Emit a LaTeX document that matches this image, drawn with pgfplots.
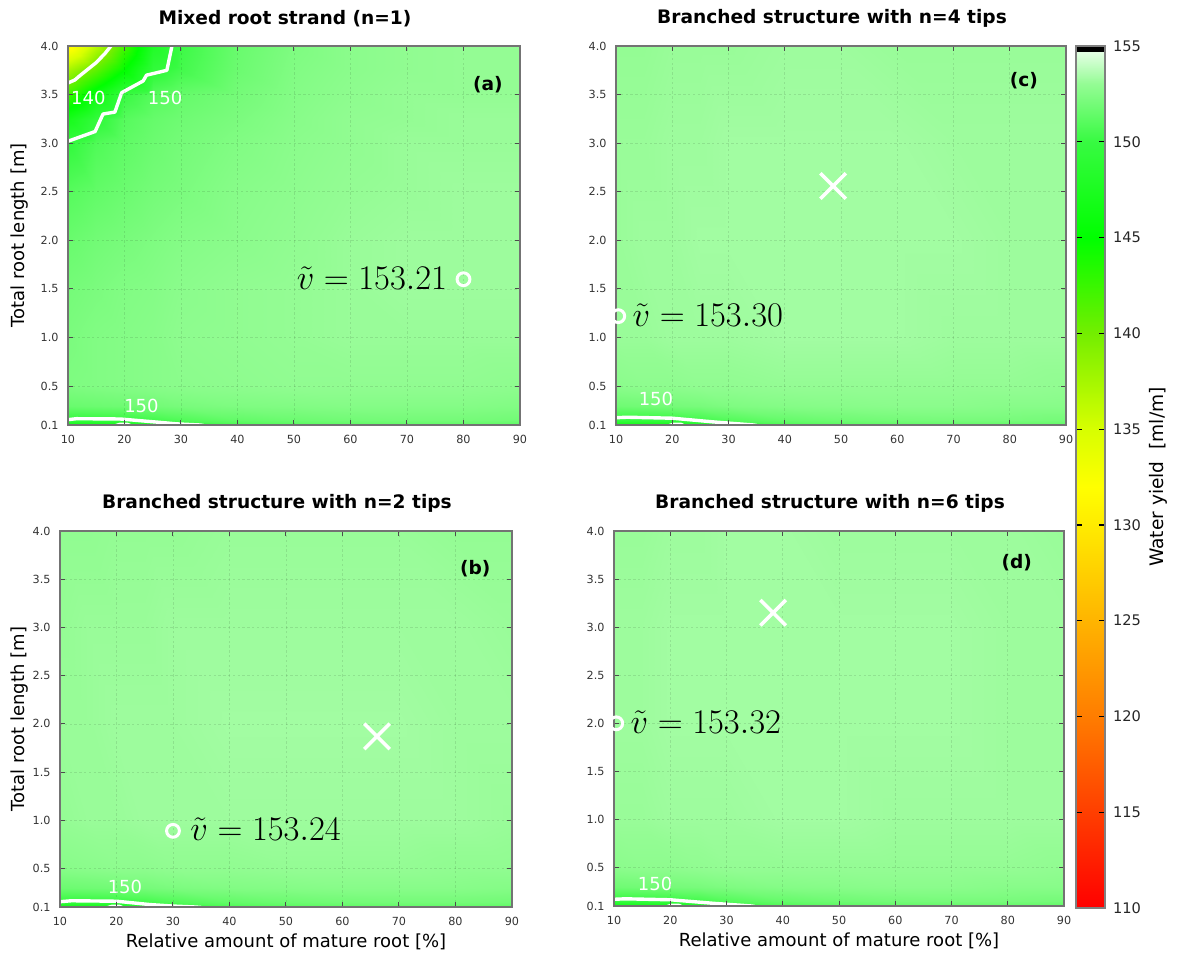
\documentclass[border=0pt]{standalone}
\usepackage[no-math]{fontspec}
\setmainfont{DejaVu Sans}
\usepackage{pgfplots}
\pgfplotsset{compat=1.18}
\usepackage{pgfplotstable}

\pgfplotsset{colormap={wy}{rgb255(110)=(255,0,0) rgb255(120)=(255,125,0) rgb255(125)=(255,180,0) rgb255(130)=(255,235,0) rgb255(132)=(255,255,0) rgb255(135)=(215,255,0) rgb255(140)=(115,238,0) rgb255(145)=(0,255,0) rgb255(150)=(55,250,65) rgb255(153)=(148,252,148) rgb255(154.7)=(228,255,228) rgb255(154.75)=(0,0,0) rgb255(155)=(0,0,0)}}

\pgfplotstableread{
x y v
10 0.1 146.5
15 0.1 146.5
20 0.1 146.8
25 0.1 147.8
30 0.1 149.2
40 0.1 150.6
50 0.1 151.0
60 0.1 151.2
70 0.1 151.3
80 0.1 151.3
90 0.1 151.2
10 0.15 149.9
15 0.15 149.9
20 0.15 150.0
25 0.15 150.4
30 0.15 150.8
40 0.15 151.4
50 0.15 151.7
60 0.15 151.9
70 0.15 152.0
80 0.15 152.0
90 0.15 151.9
10 0.3 151.6
15 0.3 151.7
20 0.3 151.8
25 0.3 151.9
30 0.3 152.1
40 0.3 152.3
50 0.3 152.4
60 0.3 152.5
70 0.3 152.5
80 0.3 152.5
90 0.3 152.4
10 0.5 152.3
15 0.5 152.4
20 0.5 152.5
25 0.5 152.6
30 0.5 152.7
40 0.5 152.8
50 0.5 152.9
60 0.5 152.9
70 0.5 152.9
80 0.5 152.9
90 0.5 152.8
10 1.0 152.2
15 1.0 152.4
20 1.0 152.5
25 1.0 152.6
30 1.0 152.8
40 1.0 152.9
50 1.0 153.0
60 1.0 153.1
70 1.0 153.1
80 1.0 153.1
90 1.0 153.1
10 1.5 152.0
15 1.5 152.2
20 1.5 152.4
25 1.5 152.5
30 1.5 152.7
40 1.5 152.9
50 1.5 153.0
60 1.5 153.1
70 1.5 153.2
80 1.5 153.2
90 1.5 153.2
10 2.0 151.6
15 2.0 151.9
20 2.0 152.1
25 2.0 152.3
30 2.0 152.5
40 2.0 152.7
50 2.0 152.9
60 2.0 153.1
70 2.0 153.2
80 2.0 153.2
90 2.0 153.2
10 2.5 151.0
15 2.5 151.4
20 2.5 151.7
25 2.5 152.0
30 2.5 152.2
40 2.5 152.6
50 2.5 152.8
60 2.5 153.0
70 2.5 153.1
80 2.5 153.2
90 2.5 153.2
10 3.0 149.8
15 3.0 150.8
20 3.0 151.3
25 3.0 151.7
30 3.0 152.0
40 3.0 152.4
50 3.0 152.7
60 3.0 152.9
70 3.0 153.1
80 3.0 153.1
90 3.0 153.1
10 3.25 147.0
15 3.25 149.6
20 3.25 151.0
25 3.25 151.5
30 3.25 151.8
40 3.25 152.2
50 3.25 152.6
60 3.25 152.9
70 3.25 153.0
80 3.25 153.1
90 3.25 153.1
10 3.5 142.5
15 3.5 146.5
20 3.5 150.1
25 3.5 151.0
30 3.5 151.5
40 3.5 152.0
50 3.5 152.5
60 3.5 152.8
70 3.5 153.0
80 3.5 153.0
90 3.5 153.0
10 3.75 137.5
15 3.75 141.0
20 3.75 145.0
25 3.75 149.5
30 3.75 150.4
40 3.75 151.7
50 3.75 152.4
60 3.75 152.7
70 3.75 152.9
80 3.75 153.0
90 3.75 153.0
10 4.0 131.0
15 4.0 136.5
20 4.0 142.0
25 4.0 148.0
30 4.0 150.2
40 4.0 151.6
50 4.0 152.3
60 4.0 152.7
70 4.0 152.9
80 4.0 153.0
90 4.0 153.0
}\tabA

\pgfplotstableread{
x y v
10 0.1 146.5
15 0.1 146.5
20 0.1 146.8
25 0.1 147.8
30 0.1 149.2
40 0.1 150.6
50 0.1 151.0
60 0.1 151.2
70 0.1 151.3
80 0.1 151.3
90 0.1 151.2
10 0.15 149.9
15 0.15 149.9
20 0.15 150.0
25 0.15 150.4
30 0.15 150.8
40 0.15 151.4
50 0.15 151.7
60 0.15 151.9
70 0.15 152.0
80 0.15 152.0
90 0.15 151.9
10 0.3 151.7
15 0.3 151.8
20 0.3 151.9
25 0.3 152.0
30 0.3 152.2
40 0.3 152.4
50 0.3 152.5
60 0.3 152.6
70 0.3 152.6
80 0.3 152.6
90 0.3 152.5
10 0.5 152.6
15 0.5 152.7
20 0.5 152.8
25 0.5 152.8
30 0.5 152.9
40 0.5 152.9
50 0.5 153.0
60 0.5 153.0
70 0.5 153.0
80 0.5 152.9
90 0.5 152.9
10 1.0 153.0
15 1.0 153.1
20 1.0 153.1
25 1.0 153.2
30 1.0 153.2
40 1.0 153.2
50 1.0 153.2
60 1.0 153.2
70 1.0 153.2
80 1.0 153.2
90 1.0 153.1
10 2.0 153.1
15 2.0 153.1
20 2.0 153.2
25 2.0 153.2
30 2.0 153.2
40 2.0 153.3
50 2.0 153.3
60 2.0 153.3
70 2.0 153.3
80 2.0 153.2
90 2.0 153.2
10 3.0 153.0
15 3.0 153.1
20 3.0 153.1
25 3.0 153.1
30 3.0 153.2
40 3.0 153.2
50 3.0 153.2
60 3.0 153.2
70 3.0 153.2
80 3.0 153.2
90 3.0 153.1
10 4.0 152.9
15 4.0 152.9
20 4.0 153.0
25 4.0 153.0
30 4.0 153.0
40 4.0 153.1
50 4.0 153.1
60 4.0 153.1
70 4.0 153.1
80 4.0 153.0
90 4.0 153.0
}\tabB

\pgfplotstableread{
x y v
10 0.1 146.6
15 0.1 146.6
20 0.1 146.9
25 0.1 147.9
30 0.1 149.3
40 0.1 150.7
50 0.1 151.1
60 0.1 151.3
70 0.1 151.4
80 0.1 151.4
90 0.1 151.3
10 0.15 149.9
15 0.15 149.9
20 0.15 150.0
25 0.15 150.4
30 0.15 150.9
40 0.15 151.5
50 0.15 151.8
60 0.15 152.0
70 0.15 152.1
80 0.15 152.1
90 0.15 152.0
10 0.3 151.8
15 0.3 151.9
20 0.3 152.0
25 0.3 152.1
30 0.3 152.3
40 0.3 152.5
50 0.3 152.6
60 0.3 152.7
70 0.3 152.7
80 0.3 152.6
90 0.3 152.6
10 0.5 152.7
15 0.5 152.8
20 0.5 152.8
25 0.5 152.9
30 0.5 152.9
40 0.5 153.0
50 0.5 153.0
60 0.5 153.0
70 0.5 153.0
80 0.5 153.0
90 0.5 152.9
10 1.0 153.1
15 1.0 153.1
20 1.0 153.2
25 1.0 153.2
30 1.0 153.2
40 1.0 153.3
50 1.0 153.3
60 1.0 153.3
70 1.0 153.2
80 1.0 153.2
90 1.0 153.2
10 2.0 153.1
15 2.0 153.2
20 2.0 153.2
25 2.0 153.3
30 2.0 153.3
40 2.0 153.3
50 2.0 153.3
60 2.0 153.3
70 2.0 153.3
80 2.0 153.2
90 2.0 153.2
10 3.0 153.1
15 3.0 153.1
20 3.0 153.2
25 3.0 153.2
30 3.0 153.3
40 3.0 153.3
50 3.0 153.3
60 3.0 153.3
70 3.0 153.2
80 3.0 153.2
90 3.0 153.2
10 4.0 153.0
15 4.0 153.0
20 4.0 153.1
25 4.0 153.1
30 4.0 153.1
40 4.0 153.2
50 4.0 153.2
60 4.0 153.1
70 4.0 153.1
80 4.0 153.1
90 4.0 153.1
}\tabC

\pgfplotstableread{
x y v
10 0.1 146.6
15 0.1 146.6
20 0.1 146.9
25 0.1 147.9
30 0.1 149.3
40 0.1 150.7
50 0.1 151.1
60 0.1 151.3
70 0.1 151.4
80 0.1 151.4
90 0.1 151.3
10 0.15 149.9
15 0.15 149.9
20 0.15 150.0
25 0.15 150.4
30 0.15 150.9
40 0.15 151.5
50 0.15 151.8
60 0.15 152.0
70 0.15 152.1
80 0.15 152.1
90 0.15 152.0
10 0.3 151.8
15 0.3 151.9
20 0.3 152.0
25 0.3 152.1
30 0.3 152.3
40 0.3 152.5
50 0.3 152.6
60 0.3 152.7
70 0.3 152.7
80 0.3 152.6
90 0.3 152.6
10 0.5 152.7
15 0.5 152.8
20 0.5 152.8
25 0.5 152.9
30 0.5 153.0
40 0.5 153.0
50 0.5 153.0
60 0.5 153.0
70 0.5 153.0
80 0.5 153.0
90 0.5 152.9
10 1.0 153.1
15 1.0 153.1
20 1.0 153.2
25 1.0 153.2
30 1.0 153.2
40 1.0 153.3
50 1.0 153.3
60 1.0 153.2
70 1.0 153.2
80 1.0 153.2
90 1.0 153.2
10 2.0 153.2
15 2.0 153.2
20 2.0 153.3
25 2.0 153.3
30 2.0 153.3
40 2.0 153.3
50 2.0 153.3
60 2.0 153.3
70 2.0 153.3
80 2.0 153.2
90 2.0 153.2
10 3.0 153.2
15 3.0 153.2
20 3.0 153.3
25 3.0 153.3
30 3.0 153.3
40 3.0 153.3
50 3.0 153.3
60 3.0 153.3
70 3.0 153.3
80 3.0 153.2
90 3.0 153.2
10 4.0 153.1
15 4.0 153.1
20 4.0 153.2
25 4.0 153.2
30 4.0 153.3
40 4.0 153.3
50 4.0 153.2
60 4.0 153.2
70 4.0 153.2
80 4.0 153.2
90 4.0 153.1
}\tabD

\pgfplotsset{
  panel/.style={
    scale only axis, anchor=south west,
    xmin=10, xmax=90, ymin=0.1, ymax=4.0,
    xtick={10,20,30,40,50,60,70,80,90},
    xticklabels={10,20,30,40,50,60,70,80,90},
    ytick={0.1,0.5,1,1.5,2,2.5,3,3.5,4},
    yticklabels={0.1,0.5,1.0,1.5,2.0,2.5,3.0,3.5,4.0},
    tick align=inside, major tick length=2.5pt,
    tick style={black!70, line width=0.5pt},
    axis line style={black!55, line width=0.6pt},
    grid=major, grid style={dash pattern=on 1.2pt off 1.2pt, black, draw opacity=0.1, line width=0.3pt},
    axis on top,
    ticklabel style={font=\fontsize{5.6}{6}\selectfont, text=black!80},
    xticklabel style={yshift=-1.5pt}, yticklabel style={xshift=-1.2pt},
    colormap name=wy, point meta min=110, point meta max=155,
    title style={at={(0.48,1)}, anchor=south, yshift=0pt, font=\bfseries\fontsize{9.3}{10}\selectfont},
    every axis x label/.style={at={(axis description cs:0.5,0)}, anchor=base, yshift=-20pt, font=\fontsize{9}{10}\selectfont},
    every axis y label/.style={at={(axis description cs:0,0.5)}, xshift=-24pt, rotate=90, anchor=center, font=\fontsize{9}{10}\selectfont},
  },
  surfpl/.style={surf, shader=interp, point meta=explicit, mesh/cols=11},
  cont/.style={white, line width=1.7pt, line join=round, line cap=round},
  omark/.style={only marks, mark=o, mark size=3.2pt, white, line width=1.5pt},
  xmark/.style={only marks, mark=x, mark size=9pt, white, line width=1.8pt},
}
\tikzset{
  clbl/.style={text=white, font=\fontsize{9}{10}\selectfont, inner sep=0pt},
  plbl/.style={font=\bfseries\fontsize{9.3}{10}\selectfont},
  vlbl/.style={inner sep=0pt, font=\fontsize{16}{16}\selectfont},
}

\begin{document}
\begin{tikzpicture}
\path[use as bounding box] (0,0) rectangle (588.5pt,-479pt);

% (a)
\begin{axis}[panel, at={(34pt,-212.5pt)}, width=226pt, height=189.5pt,
  title={Mixed root strand (n=1)}, ylabel={Total root length [m]}]
\addplot[surfpl] table[x=x,y=y,meta=v] {\tabA};
\addplot[cont] coordinates {(9,3.6)(10,3.62)(11.2,3.65)(12,3.69)(15,3.83)(16.5,3.92)(17.6,4.0)(18.2,4.1)};
\addplot[cont] coordinates {(9,3.0)(10,3.02)(14.8,3.12)(16.2,3.3)(18.3,3.32)(19.5,3.52)(23.3,3.64)(23.9,3.70)(27.5,3.75)(28.4,4.0)(28.5,4.1)};
\addplot[cont] coordinates {(9,0.15)(10,0.155)(11.5,0.165)(19.2,0.162)(26.3,0.127)(29.2,0.112)(33.4,0.1)(34,0.095)};
\addplot[cont] coordinates {(18.5,0.095)(19.2,0.107)(20.5,0.107)(21,0.095)};
\node[clbl] at (axis cs:13.6,3.47) {140};
\node[clbl] at (axis cs:27.2,3.47) {150};
\node[clbl] at (axis cs:23.0,0.30) {150};
\node[plbl] at (axis cs:84.3,3.6) {(a)};
\addplot[omark] coordinates {(80,1.6)};
\node[vlbl, anchor=base east, xshift=-8pt, yshift=-5pt] at (axis cs:80,1.6) {$\tilde{v} = 153.21$};
\end{axis}

% (c)
\begin{axis}[panel, at={(308pt,-212.5pt)}, width=225pt, height=189.5pt,
  title={Branched structure with n=4 tips}]
\addplot[surfpl] table[x=x,y=y,meta=v] {\tabC};
\addplot[cont] coordinates {(9,0.175)(10,0.175)(12,0.18)(20,0.17)(27.7,0.13)(34.5,0.1)(35,0.095)};
\addplot[cont] coordinates {(19.5,0.095)(20.2,0.107)(21.5,0.107)(22,0.095)};
\node[clbl] at (axis cs:17.1,0.37) {150};
\node[plbl] at (axis cs:82.5,3.64) {(c)};
\addplot[xmark] coordinates {(48.6,2.56)};
\addplot[omark] coordinates {(10.4,1.22)};
\node[vlbl, anchor=base west, xshift=7pt, yshift=-5pt] at (axis cs:10.4,1.22) {$\tilde{v} = 153.30$};
\end{axis}

% (b)
\begin{axis}[panel, at={(30pt,-453.5pt)}, width=226pt, height=188pt,
  title={Branched structure with n=2 tips}, ylabel={Total root length [m]},
  xlabel={Relative amount of mature root [\%]},
  every axis y label/.style={at={(axis description cs:0,0.5)}, xshift=-20pt, rotate=90, anchor=center, font=\fontsize{9}{10}\selectfont}]
\addplot[surfpl] table[x=x,y=y,meta=v] {\tabB};
\addplot[cont] coordinates {(9,0.15)(10,0.155)(12,0.165)(20,0.16)(26,0.125)(30,0.11)(34,0.1)(35,0.095)};
\addplot[cont] coordinates {(18.5,0.095)(19.2,0.107)(20.5,0.107)(21,0.095)};
\node[clbl] at (axis cs:21.5,0.31) {150};
\node[plbl] at (axis cs:83.5,3.61) {(b)};
\addplot[xmark] coordinates {(66.1,1.87)};
\addplot[omark] coordinates {(30,0.89)};
\node[vlbl, anchor=base west, xshift=8.5pt, yshift=-5pt] at (axis cs:30,0.89) {$\tilde{v} = 153.24$};
\end{axis}

% (d)
\begin{axis}[panel, at={(307pt,-453pt)}, width=225pt, height=187.5pt,
  title={Branched structure with n=6 tips},
  xlabel={Relative amount of mature root [\%]}]
\addplot[surfpl] table[x=x,y=y,meta=v] {\tabD};
\addplot[cont] coordinates {(9,0.17)(10,0.17)(12,0.175)(20,0.165)(27.7,0.128)(34.5,0.1)(35,0.095)};
\addplot[cont] coordinates {(19.5,0.095)(20.2,0.107)(21.5,0.107)(22,0.095)};
\node[clbl] at (axis cs:17.3,0.33) {150};
\node[plbl] at (axis cs:81.6,3.67) {(d)};
\addplot[xmark] coordinates {(38.3,3.15)};
\addplot[omark] coordinates {(10.4,2.0)};
\node[vlbl, anchor=base west, xshift=7pt, yshift=-5pt] at (axis cs:10.4,2.0) {$\tilde{v} = 153.32$};
\end{axis}

% colour bar
\begin{axis}[at={(538pt,-454pt)}, anchor=south west, scale only axis,
  width=14.5pt, height=431pt, xmin=0, xmax=1, ymin=110, ymax=155,
  xtick=\empty, ytick={110,115,120,125,130,135,140,145,150,155},
  yticklabels={110,115,120,125,130,135,140,145,150,155},
  yticklabel pos=right, ytick pos=both,
  tick align=inside, major tick length=3pt, tick style={black, line width=0.6pt},
  axis line style={black!50, line width=0.8pt},
  ticklabel style={font=\fontsize{7.3}{8}\selectfont, text=black!85},
  yticklabel style={xshift=0.5pt},
  ylabel={Water yield\ \ [ml/m]},
  every axis y label/.style={at={(axis description cs:1,0.5)}, xshift=26.5pt, rotate=90, anchor=center, font=\fontsize{9.3}{10}\selectfont},
  colormap name=wy, point meta min=110, point meta max=155, axis on top]
\addplot[surf, shader=interp, point meta=explicit, mesh/cols=2] table[x=x,y=y,meta=v] {
x y v
0 110 110
1 110 110
0 120 120
1 120 120
0 125 125
1 125 125
0 130 130
1 130 130
0 132 132
1 132 132
0 135 135
1 135 135
0 140 140
1 140 140
0 145 145
1 145 145
0 150 150
1 150 150
0 153 153
1 153 153
0 154.7 154.7
1 154.7 154.7
0 154.75 154.75
1 154.75 154.75
0 155 155
1 155 155
};
\end{axis}
\end{tikzpicture}
\end{document}
